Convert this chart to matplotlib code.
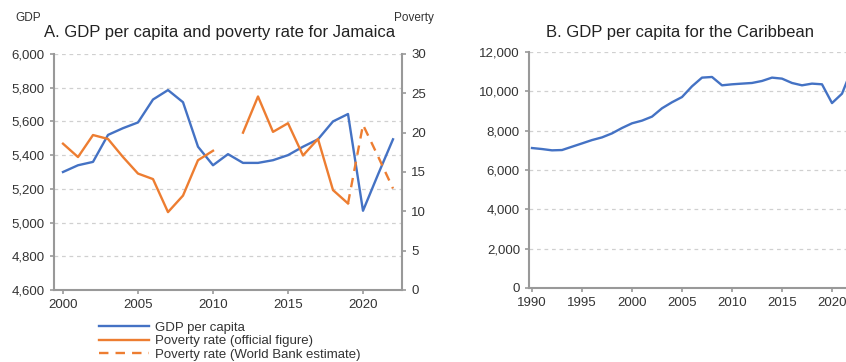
"""Jamaica GDP per capita / poverty rate, and Caribbean GDP per capita."""

import numpy as np
import matplotlib

matplotlib.use("Agg")
import matplotlib.pyplot as plt
from matplotlib.ticker import FuncFormatter

plt.rcParams["font.family"] = ["Liberation Sans", "DejaVu Sans"]

# Panel A: Jamaica
years_jm = list(range(2000, 2023))
gdp_jm = [5300, 5340, 5360, 5520, 5560, 5594, 5730, 5786, 5714, 5450, 5340, 5406,
          5354, 5354, 5370, 5400, 5450, 5494, 5600, 5644, 5070, 5285, 5494]
years_pov = list(range(2000, 2020))
pov_official = [18.6, 16.9, 19.7, 19.2, 16.9, 14.8, 14.1, 9.9, 12.0, 16.5, 17.7, np.nan,
                20.0, 24.6, 20.1, 21.2, 17.1, 19.2, 12.7, 11.0]
years_wb = [2019, 2020, 2021, 2022]
pov_wb = [11.0, 21.0, 17.0, 12.9]

# Panel B: Caribbean
years_car = list(range(1990, 2023))
gdp_car = [7117, 7066, 7000, 7015, 7184, 7352, 7522, 7658, 7862, 8136, 8374, 8510,
           8714, 9138, 9444, 9710, 10255, 10697, 10730, 10306, 10357, 10392, 10425,
           10527, 10697, 10646, 10425, 10306, 10392, 10357, 9403, 9880, 11150]

BLUE = "#4472C4"
ORANGE = "#ED7D31"
SPINE = "#999999"
TEXT = "#333333"
GRID = "#d0d0d0"

W, H = 846, 362
thousands = FuncFormatter(lambda v, _: f"{v:,.0f}")


def style(ax):
    for side in ("top", "right"):
        ax.spines[side].set_visible(False)
    for side in ("left", "bottom"):
        ax.spines[side].set_color(SPINE)
        ax.spines[side].set_linewidth(1.5)
    ax.tick_params(colors=SPINE, labelcolor=TEXT, labelsize=9.5, length=3, width=1.2)
    ax.yaxis.grid(True, linestyle=(0, (3, 3)), color=GRID, linewidth=0.9)
    ax.set_axisbelow(True)


fig = plt.figure(figsize=(W / 100, H / 100), dpi=100)

# --- Panel A
ax = fig.add_axes([54 / W, (H - 290) / H, 348 / W, 236 / H])
style(ax)
ax.plot(years_jm, gdp_jm, color=BLUE, lw=1.7, label="GDP per capita")
ax.set_xlim(1999.4, 2022.6)
ax.set_ylim(4600, 6000)
ax.set_yticks(range(4600, 6001, 200))
ax.set_xticks(range(2000, 2021, 5))
ax.yaxis.set_major_formatter(thousands)

ax2 = ax.twinx()
for side in ("top", "left", "bottom"):
    ax2.spines[side].set_visible(False)
ax2.spines["right"].set_color(SPINE)
ax2.spines["right"].set_linewidth(1.5)
ax2.tick_params(colors=SPINE, labelcolor=TEXT, labelsize=9.5, length=3, width=1.2)
ax2.plot(years_pov, pov_official, color=ORANGE, lw=1.7, label="Poverty rate (official figure)")
ax2.plot(years_wb, pov_wb, color=ORANGE, lw=1.7, ls=(0, (4, 3)),
         label="Poverty rate (World Bank estimate)")
ax2.set_ylim(0, 30)
ax2.set_yticks(range(0, 31, 5))

fig.text(220 / W, 1 - 33 / H, "A. GDP per capita and poverty rate for Jamaica",
         ha="center", va="center", fontsize=12, color="#222222")
fig.text(15 / W, 1 - 18 / H, "GDP", ha="left", va="center", fontsize=8.5, color=TEXT)
fig.text(394 / W, 1 - 18 / H, "Poverty", ha="left", va="center", fontsize=8.5, color=TEXT)

handles = ax.get_lines() + ax2.get_lines()
fig.legend(handles, [h.get_label() for h in handles], loc="upper left",
           bbox_to_anchor=(92 / W, 1 - 315 / H), frameon=False, fontsize=9.5,
           handlelength=3.8, handletextpad=0.5, labelspacing=0.1, borderpad=0,
           labelcolor=TEXT)

# --- Panel B
bx = fig.add_axes([529 / W, (H - 288) / H, 338 / W, 236 / H])
style(bx)
bx.plot(years_car, gdp_car, color=BLUE, lw=1.7)
bx.set_xlim(1989.7, 2023.5)
bx.set_ylim(0, 12000)
bx.set_yticks(range(0, 12001, 2000))
bx.set_xticks(range(1990, 2021, 5))
bx.yaxis.set_major_formatter(thousands)
fig.text(680 / W, 1 - 33 / H, "B. GDP per capita for the Caribbean",
         ha="center", va="center", fontsize=12, color="#222222")

fig.savefig("out.png", dpi=100)
